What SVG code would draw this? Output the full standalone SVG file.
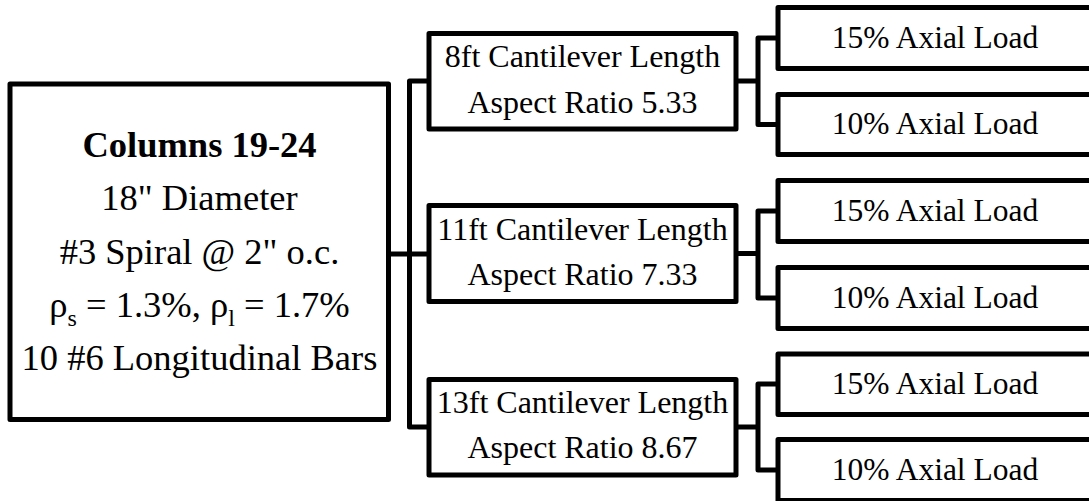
<svg xmlns="http://www.w3.org/2000/svg" width="1089" height="501" viewBox="0 0 1089 501">
<style>
.box{fill:#fff;stroke:#000;stroke-width:5;stroke-linejoin:round}
.con{fill:none;stroke:#000;stroke-width:5;stroke-linejoin:round}
text{font-family:"Liberation Serif","Times New Roman",serif;fill:#000;text-anchor:middle}
.main{font-size:36.5px}
.mid{font-size:32px}
.leaf{font-size:31.5px}
.sub{font-size:24px}
</style>
<rect width="1089" height="501" fill="#fff"/>
<g id="connectors">
<path class="con" d="M388.5 254H429M429 81H409.5V427H429"/>
<path class="con" d="M736 81H758M778 38H758V124.5H778"/>
<path class="con" d="M736 253.5H758M778 211H758V298H778"/>
<path class="con" d="M736 427H758M778 384H758V470H778"/>
</g>
<g id="columns">
<rect class="box" x="10" y="84" width="378.5" height="335.5"/>
<text class="main" x="199.5" y="157" font-weight="bold">Columns 19-24</text>
<text class="main" x="199.5" y="210">18" Diameter</text>
<text class="main" x="199.5" y="263.5">#3 Spiral @ 2" o.c.</text>
<text class="main" x="199.5" y="317">ρ<tspan class="sub" dy="9">s</tspan><tspan dy="-9"> = 1.3%, ρ</tspan><tspan class="sub" dy="9">l</tspan><tspan dy="-9"> = 1.7%</tspan></text>
<text class="main" x="199.5" y="370">10 #6 Longitudinal Bars</text>
</g>
<g id="len8">
<rect class="box" x="429" y="33.5" width="307" height="95.5"/>
<text class="mid" x="582.5" y="67">8ft Cantilever Length</text>
<text class="mid" x="582.5" y="113">Aspect Ratio 5.33</text>
</g>
<g id="len11">
<rect class="box" x="429" y="205.5" width="307" height="96"/>
<text class="mid" x="582.5" y="240">11ft Cantilever Length</text>
<text class="mid" x="582.5" y="285">Aspect Ratio 7.33</text>
</g>
<g id="len13">
<rect class="box" x="429" y="379.5" width="307" height="95.5"/>
<text class="mid" x="582.5" y="413">13ft Cantilever Length</text>
<text class="mid" x="582.5" y="458">Aspect Ratio 8.67</text>
</g>
<g id="l8a"><rect class="box" x="778" y="7.5" width="320" height="61"/><text class="leaf" x="935" y="48">15% Axial Load</text></g>
<g id="l8b"><rect class="box" x="778" y="94.5" width="320" height="60"/><text class="leaf" x="935" y="134">10% Axial Load</text></g>
<g id="l11a"><rect class="box" x="778" y="180.5" width="320" height="61"/><text class="leaf" x="935" y="220.5">15% Axial Load</text></g>
<g id="l11b"><rect class="box" x="778" y="267.5" width="320" height="61"/><text class="leaf" x="935" y="307.5">10% Axial Load</text></g>
<g id="l13a"><rect class="box" x="778" y="354" width="320" height="60.5"/><text class="leaf" x="935" y="393.5">15% Axial Load</text></g>
<g id="l13b"><rect class="box" x="778" y="439.5" width="320" height="61"/><text class="leaf" x="935" y="479.5">10% Axial Load</text></g>
</svg>
